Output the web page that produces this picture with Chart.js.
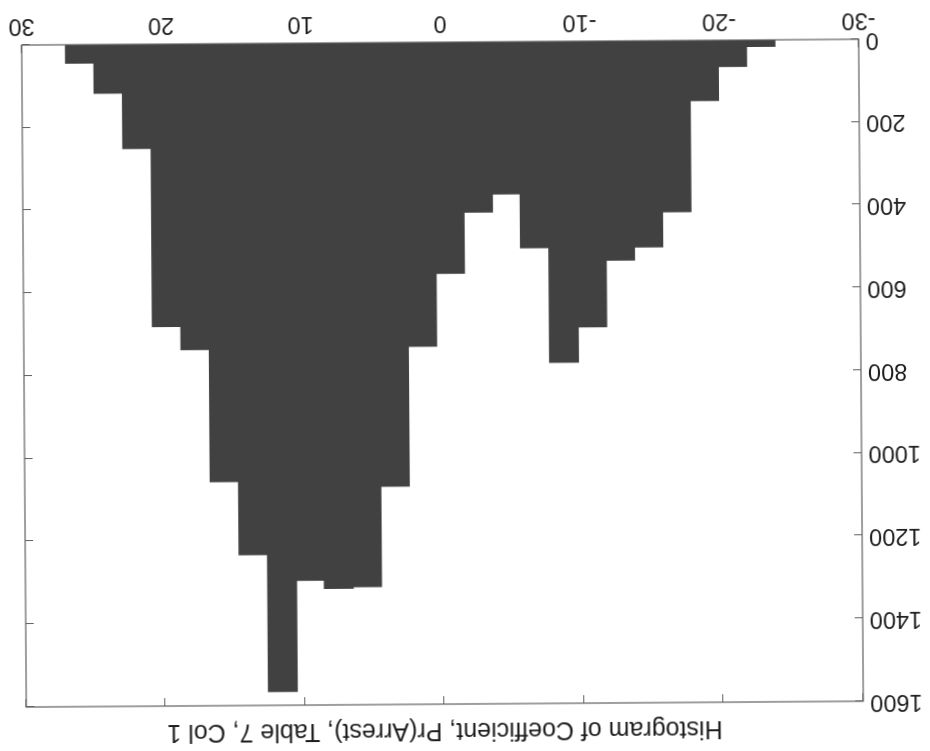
<!DOCTYPE html>
<html>
<head>
<meta charset="utf-8">
<script src="https://cdn.jsdelivr.net/npm/chart.js@4.4.1/dist/chart.umd.min.js"></script>
<style>
  html, body { margin: 0; padding: 0; background: #fff; overflow: hidden; }
  /* the scanned page is upside down, so the whole chart is turned round */
  #wrap { width: 930px; height: 751px; transform: rotate(179.6deg); transform-origin: 50% 50%; }
</style>
</head>
<body>
<div id="wrap"><canvas id="chart" width="930" height="751"></canvas></div>
<script>
// Histogram bins (centres) and counts.
const binCenters = [-22.96, -20.92, -18.89, -16.86, -14.82, -12.79, -10.76, -8.72, -6.69, -4.66,
  -2.63, -0.59, 1.44, 3.47, 5.51, 7.54, 9.57, 11.60, 13.64, 15.67, 17.70, 19.74, 21.77, 23.80, 25.83];
const counts = [15, 63, 145, 413, 498, 529, 690, 775, 498, 367,
  411, 558, 734, 1072, 1314, 1318, 1298, 1566, 1235, 1058, 738, 682, 251, 117, 44];
const xTickValues = [-30, -20, -10, 0, 10, 20, 30];
const yTickValues = [0, 200, 400, 600, 800, 1000, 1200, 1400, 1600];
const chartTitle = 'Histogram of Coefficient, Pr(Arrest), Table 7, Col 1';

const FONT = "'Liberation Sans', Arial, sans-serif";
const TEXT = '#1e1e1e';
const LINE = '#606060';

// Box round the plot with short inward ticks on every side, plus the title
// centred over the plot area.
const frameTicks = {
  id: 'frameTicks',
  beforeDatasetsDraw(chart) {
    const { ctx, chartArea: a, scales: { x, y } } = chart;
    ctx.save();
    ctx.strokeStyle = LINE;
    ctx.lineWidth = 1;
    ctx.beginPath();
    xTickValues.forEach((v) => {
      const px = Math.round(x.getPixelForValue(v)) + 0.5;
      ctx.moveTo(px, a.bottom); ctx.lineTo(px, a.bottom - 8);
      ctx.moveTo(px, a.top); ctx.lineTo(px, a.top + 8);
    });
    yTickValues.forEach((v) => {
      const py = Math.round(y.getPixelForValue(v)) + 0.5;
      ctx.moveTo(a.left, py); ctx.lineTo(a.left + 8, py);
      ctx.moveTo(a.right, py); ctx.lineTo(a.right - 8, py);
    });
    ctx.stroke();
    ctx.restore();
  },
  afterDatasetsDraw(chart) {
    const { ctx, chartArea: a } = chart;
    ctx.save();
    ctx.strokeStyle = LINE;
    ctx.lineWidth = 1.2;
    ctx.strokeRect(a.left, a.top, a.right - a.left, a.bottom - a.top);
    ctx.fillStyle = TEXT;
    ctx.font = '25px ' + FONT;
    ctx.textAlign = 'center';
    ctx.textBaseline = 'alphabetic';
    ctx.fillText(chartTitle, (a.left + a.right) / 2, 27.5);
    ctx.restore();
  }
};

const ctx = document.getElementById('chart');
new Chart(ctx, {
  type: 'bar',
  data: {
    datasets: [{
      data: binCenters.map((c, i) => ({ x: c, y: counts[i] })),
      backgroundColor: '#414141',
      borderWidth: 0,
      inflateAmount: 0.8,
      barPercentage: 1,
      categoryPercentage: 1
    }]
  },
  options: {
    responsive: false,
    animation: false,
    layout: { padding: { left: 0, right: 24, top: 47, bottom: 0 } },
    plugins: {
      legend: { display: false },
      tooltip: { enabled: false },
      title: { display: false }
    },
    scales: {
      x: {
        type: 'linear',
        min: -30,
        max: 30,
        offset: false,
        afterBuildTicks: (scale) => { scale.ticks = xTickValues.map((v) => ({ value: v })); },
        afterFit: (scale) => { scale.height = 42; },
        grid: { display: false, drawTicks: false },
        border: { display: false },
        ticks: { color: TEXT, font: { family: FONT, size: 23.5 }, padding: 5, maxRotation: 0,
          callback: (v) => String(v) }
      },
      y: {
        min: 0,
        max: 1600,
        afterBuildTicks: (scale) => { scale.ticks = yTickValues.map((v) => ({ value: v })); },
        afterFit: (scale) => { scale.width = 69; },
        grid: { display: false, drawTicks: false },
        border: { display: false },
        ticks: { color: TEXT, font: { family: FONT, size: 23.5 }, padding: 7,
          callback: (v) => String(v) }
      }
    }
  },
  plugins: [frameTicks]
});
</script>
</body>
</html>
